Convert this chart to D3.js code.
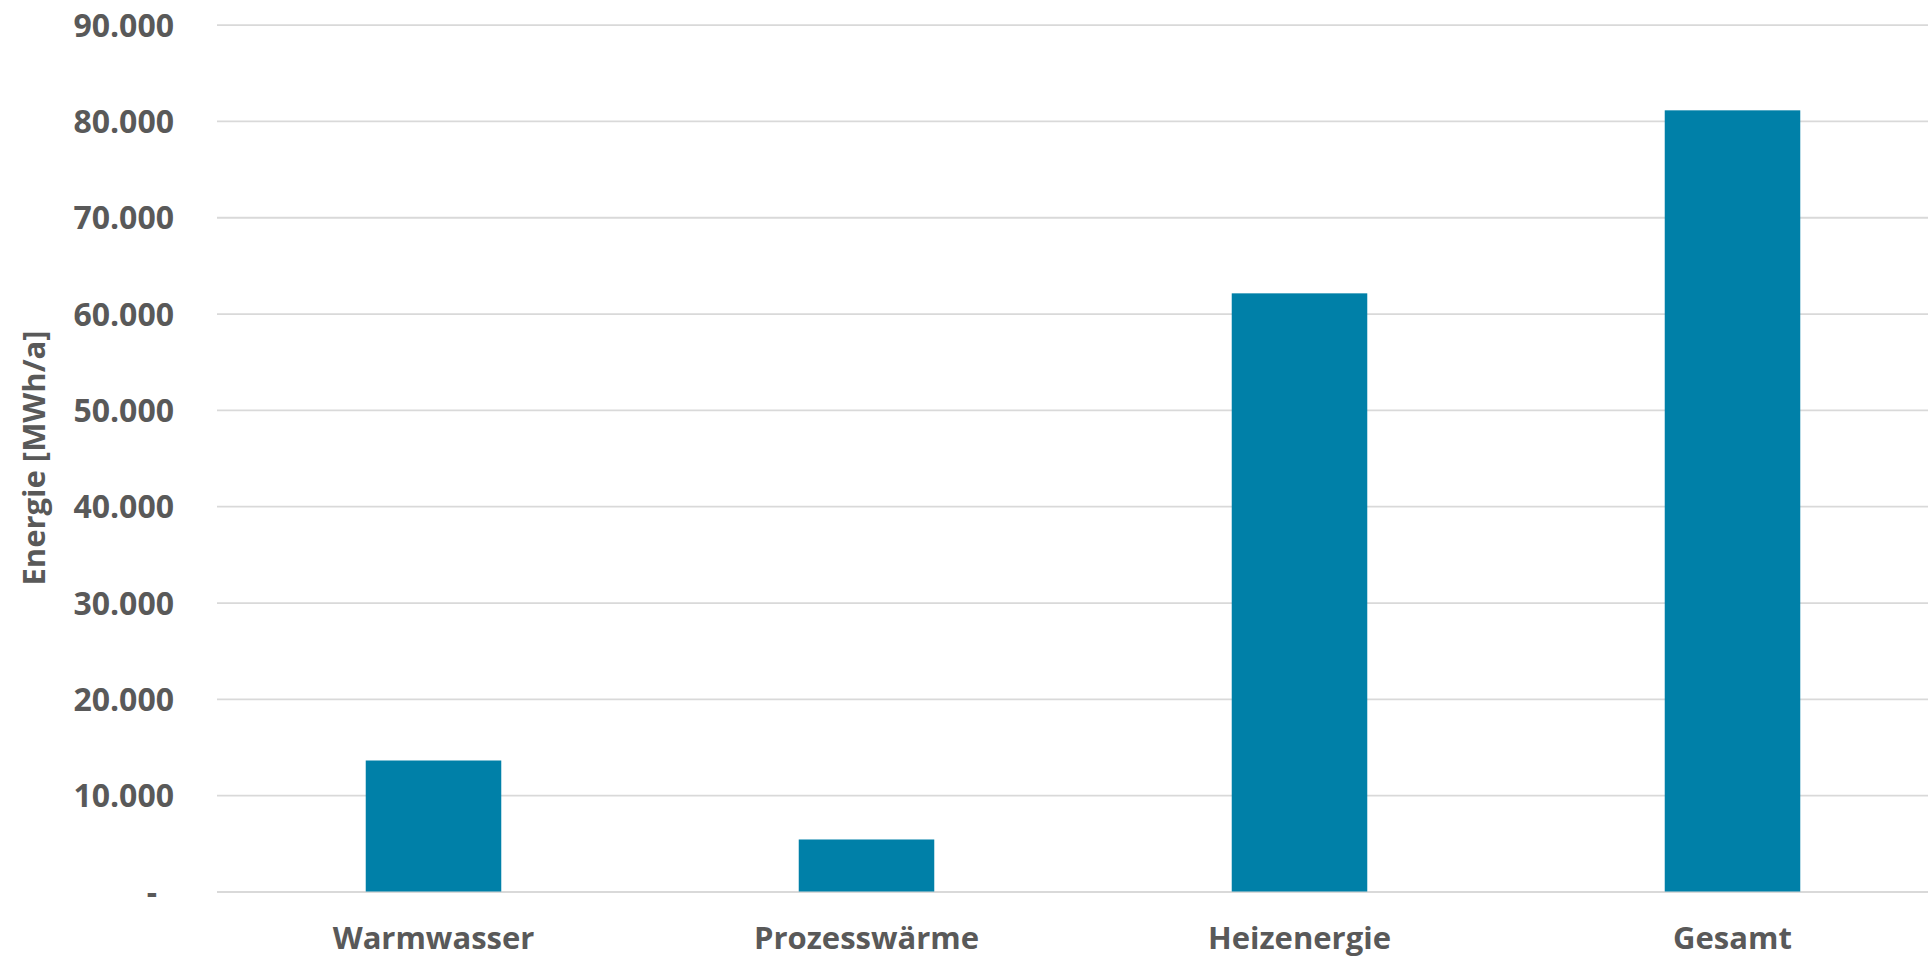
<!DOCTYPE html>
<html>
<head>
<meta charset="utf-8">
<script src="https://cdn.jsdelivr.net/npm/d3@7"></script>
<style>
  html, body { margin: 0; padding: 0; background: #ffffff; overflow: hidden; }
  svg { display: block; }
  text { font-family: "Open Sans", "Noto Sans", sans-serif; font-weight: 700; fill: #595959; }
</style>
</head>
<body>
<svg id="chart"></svg>
<script>
// Annual energy demand by use, in MWh/a
const categories = ["Warmwasser", "Prozesswärme", "Heizenergie", "Gesamt"];
const values = [13600, 5400, 62100, 81100];
const yTicks = [0, 10000, 20000, 30000, 40000, 50000, 60000, 70000, 80000, 90000];
const yTickLabels = ["-", "10.000", "20.000", "30.000", "40.000", "50.000", "60.000", "70.000", "80.000", "90.000"];
const yTitle = "Energie [MWh/a]";

const W = 1928, H = 959;
const plot = { left: 217, right: 1949, top: 24.6, bottom: 891.5 };

const svg = d3.select("#chart").attr("width", W).attr("height", H);

const x = d3.scaleBand()
  .domain(categories)
  .range([plot.left, plot.right])
  .paddingInner(0.687)
  .paddingOuter(0.3435);

const y = d3.scaleLinear()
  .domain([0, 90000])
  .range([plot.bottom, plot.top]);

// Horizontal gridlines with value labels
const yAxis = d3.axisLeft(y)
  .tickValues(yTicks)
  .tickSize(-(plot.right - plot.left))
  .tickPadding(43)
  .tickFormat((d, i) => yTickLabels[i]);

const gy = svg.append("g")
  .attr("transform", `translate(${plot.left},0)`)
  .call(yAxis);
gy.select(".domain").remove();
gy.selectAll(".tick line")
  .attr("stroke", "#D9D9D9")
  .attr("stroke-width", 1.8);
gy.selectAll(".tick text")
  .attr("font-size", 32)
  .attr("dy", "0.36em")
  .attr("fill", "#595959")
  .attr("font-family", "'Open Sans', sans-serif")
  .attr("font-weight", 700)
  .attr("dx", d => d === 0 ? -17 : 0);

// Bars
svg.append("g")
  .selectAll("rect")
  .data(categories)
  .join("rect")
  .attr("x", d => x(d))
  .attr("width", x.bandwidth())
  .attr("y", (d, i) => y(values[i]))
  .attr("height", (d, i) => y(0) - y(values[i]))
  .attr("fill", "#0080A8");

// Category labels
const xAxis = d3.axisBottom(x).tickSize(0).tickPadding(0);
const gx = svg.append("g")
  .attr("transform", `translate(0,${plot.bottom})`)
  .call(xAxis);
gx.select(".domain").remove();
gx.selectAll(".tick text")
  .attr("y", 57.5)
  .attr("dy", 0)
  .attr("font-size", 31)
  .attr("fill", "#595959")
  .attr("font-family", "'Open Sans', sans-serif")
  .attr("font-weight", 700);

// Axis title
svg.append("text")
  .attr("transform", `translate(45,${(plot.top + plot.bottom) / 2}) rotate(-90)`)
  .attr("text-anchor", "middle")
  .attr("font-size", 31)
  .text(yTitle);
</script>
</body>
</html>
